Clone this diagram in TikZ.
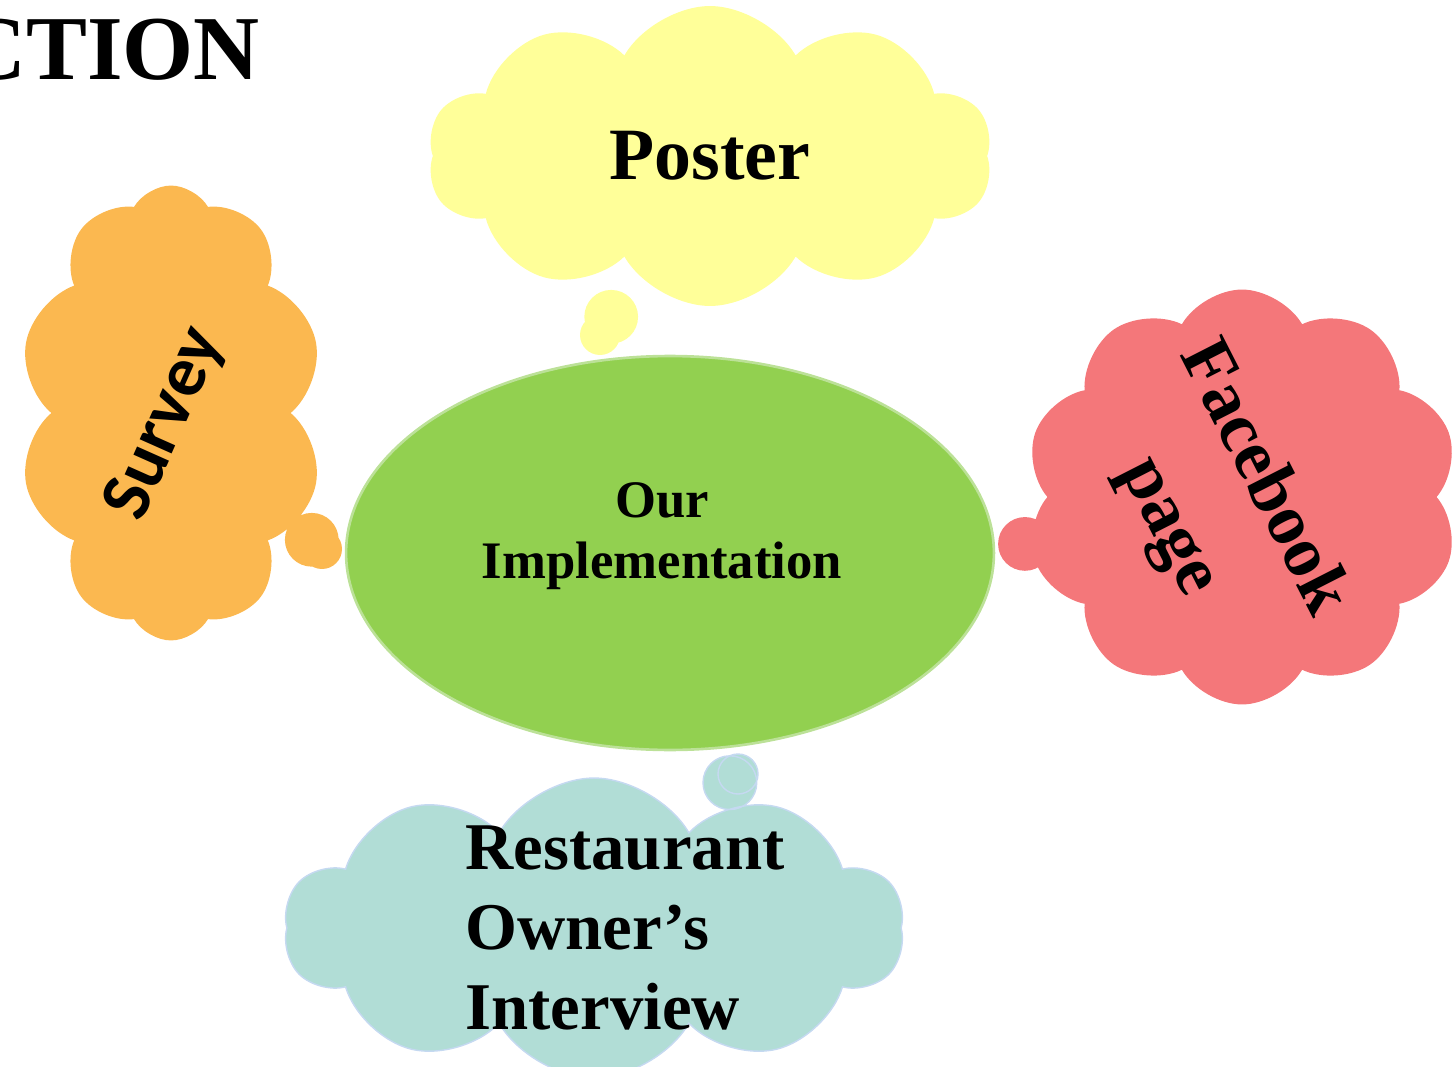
\documentclass[tikz,border=0pt]{standalone}
\usepackage{fontspec}
\setmainfont{Liberation Serif}
\newfontfamily\surveyfont{Carlito}
\usetikzlibrary{shapes.symbols,shapes.callouts,shapes.geometric,positioning}
\definecolor{posterYellow}{RGB}{255,255,153}
\definecolor{surveyOrange}{RGB}{251,184,80}
\definecolor{fbPink}{RGB}{244,119,122}
\definecolor{interviewTeal}{RGB}{177,221,214}
\definecolor{interviewEdge}{RGB}{197,217,241}
\definecolor{implGreen}{RGB}{146,208,80}
\definecolor{implEdge}{RGB}{188,225,152}

\begin{document}
\begin{tikzpicture}[
  x=0.02cm, y=-0.02cm,
  thought/.style={cloud callout, cloud puffs=10, cloud puff arc=120, cloud ignores aspect, callout pointer segments=2,
    callout pointer start size=1.35cm and 1.35cm, callout pointer end size=0.8cm and 0.8cm, inner sep=0pt, align=center},
  lbl/.style={align=center, inner sep=0pt},
  every node/.style={text=black}
]
\useasboundingbox (0,0) rectangle (1453,1067);

% Title, cut off at the left edge
\node[font=\fontsize{52}{52}\selectfont\bfseries, anchor=base east, inner sep=0pt] (title) at (260,80) {CTION};

% Centre
\node[ellipse, fill=implGreen, draw=implEdge, line width=1.5pt, minimum width=12.96cm, minimum height=7.88cm] (impl) at (670,553) {};
\node[lbl, font=\fontsize{30}{35}\selectfont\bfseries] (implText) at (662,536) {Our\\Implementation};

% ends of the thought bubbles
\coordinate (posterTip) at (600,335);
\coordinate (surveyTip) at (322,549);
\coordinate (fbTip) at (1020,545);
\coordinate (interviewTip) at (738,774);

% Thought clouds round the centre
\node[thought, fill=posterYellow, minimum width=11.3cm, minimum height=6cm, callout absolute pointer={(posterTip)}, font=\fontsize{42}{42}\selectfont\bfseries] (poster) at (710,156) {Poster};

\node[thought, fill=surveyOrange, minimum width=6.1cm, minimum height=9.1cm, callout absolute pointer={(surveyTip)}] (survey) at (171,413) {};
\node[rotate=66, font=\surveyfont\fontsize{41}{41}\selectfont\bfseries, inner sep=0pt] (surveyText) at (166,424) {Survey};

\node[thought, fill=fbPink, minimum width=8.7cm, minimum height=8.3cm, callout absolute pointer={(fbTip)}] (fb) at (1242,497) {};
\node[lbl, rotate=-63, font=\fontsize{41}{60}\selectfont\bfseries] (fbText) at (1215,503) {Facebook\\page};

\node[thought, fill=interviewTeal, draw=interviewEdge, line width=0.8pt, minimum width=12.4cm, minimum height=6cm, callout absolute pointer={(interviewTip)}] (interview) at (594,928) {};
\node[lbl, align=left, font=\fontsize{38}{45.5}\selectfont\bfseries] (interviewText) at (625,928) {Restaurant\\Owner's\\Interview};

\end{tikzpicture}
\end{document}
